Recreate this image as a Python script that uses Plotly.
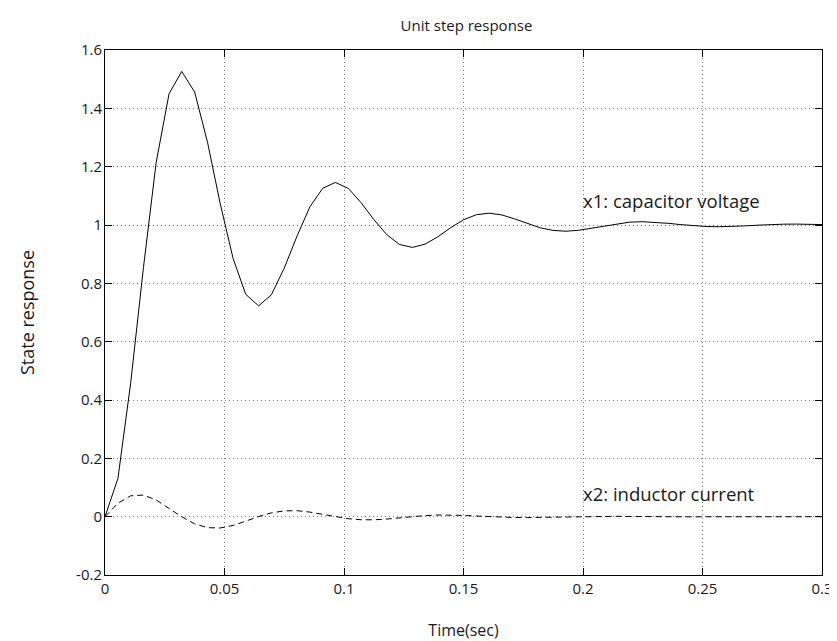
import plotly.graph_objects as go

# Time samples (sec)
time_s = [0.0, 0.0054, 0.0107, 0.0161, 0.0214, 0.0268, 0.0321, 0.0375, 0.0429, 0.0482,
          0.0536, 0.0589, 0.0643, 0.0696, 0.0750, 0.0804, 0.0857, 0.0911, 0.0964, 0.1018,
          0.1071, 0.1125, 0.1179, 0.1232, 0.1286, 0.1339, 0.1393, 0.1446, 0.1500, 0.1554,
          0.1607, 0.1661, 0.1714, 0.1768, 0.1821, 0.1875, 0.1929, 0.1982, 0.2036, 0.2089,
          0.2143, 0.2196, 0.2250, 0.2304, 0.2357, 0.2411, 0.2464, 0.2518, 0.2571, 0.2625,
          0.2679, 0.2732, 0.2786, 0.2839, 0.2893, 0.2946, 0.3000]

# x1: capacitor voltage
x1_capacitor_voltage = [0.0, 0.1307, 0.4554, 0.8548, 1.2138, 1.4497, 1.5266, 1.4559, 1.2838, 1.0734,
                        0.8850, 0.7620, 0.7227, 0.7609, 0.8521, 0.9630, 1.0618, 1.1260, 1.1460, 1.1254,
                        1.0771, 1.0186, 0.9668, 0.9333, 0.9231, 0.9343, 0.9598, 0.9906, 1.0178, 1.0353,
                        1.0405, 1.0345, 1.0209, 1.0047, 0.9904, 0.9813, 0.9787, 0.9819, 0.9891, 0.9976,
                        1.0051, 1.0099, 1.0112, 1.0095, 1.0057, 1.0012, 0.9972, 0.9948, 0.9941, 0.9950,
                        0.9970, 0.9994, 1.0015, 1.0028, 1.0031, 1.0026, 1.0015]

# x2: inductor current
x2_inductor_current = [0.0, 0.0460, 0.0714, 0.0740, 0.0574, 0.0295, -0.0004, -0.0245, -0.0377, -0.0389,
                       -0.0301, -0.0153, 0.0004, 0.0130, 0.0199, 0.0205, 0.0157, 0.0079, -0.0003, -0.0070,
                       -0.0105, -0.0108, -0.0082, -0.0041, 0.0002, 0.0037, 0.0056, 0.0057, 0.0043, 0.0021,
                       -0.0002, -0.0020, -0.0029, -0.0030, -0.0023, -0.0011, 0.0001, 0.0011, 0.0016, 0.0016,
                       0.0012, 0.0006, -0.0001, -0.0006, -0.0008, -0.0008, -0.0006, -0.0003, 0.0000, 0.0003,
                       0.0004, 0.0004, 0.0003, 0.0002, 0.0000, -0.0002, -0.0002]

x_tick_vals = [0, 0.05, 0.1, 0.15, 0.2, 0.25, 0.3]
x_tick_text = ["0", "0.05", "0.1", "0.15", "0.2", "0.25", "0.3"]
y_tick_vals = [-0.2, 0, 0.2, 0.4, 0.6, 0.8, 1.0, 1.2, 1.4, 1.6]
y_tick_text = ["-0.2", "0", "0.2", "0.4", "0.6", "0.8", "1", "1.2", "1.4", "1.6"]

label_x1 = "x1: capacitor voltage"
label_x2 = "x2: inductor current"

FONT = "Open Sans"
TXT = "#1a1a1a"

fig = go.Figure()
fig.add_trace(go.Scatter(x=time_s, y=x1_capacitor_voltage, mode="lines",
                         line=dict(color="black", width=1), showlegend=False))
fig.add_trace(go.Scatter(x=time_s, y=x2_inductor_current, mode="lines",
                         line=dict(color="black", width=1, dash="6px,4px"), showlegend=False))

fig.add_annotation(x=0.2, y=1.084, text=label_x1, showarrow=False, xanchor="left", yanchor="middle",
                   xshift=-2, font=dict(family=FONT, size=18.5, color=TXT))
fig.add_annotation(x=0.2, y=0.080, text=label_x2, showarrow=False, xanchor="left", yanchor="middle",
                   xshift=-2, font=dict(family=FONT, size=18.5, color=TXT))

axis_common = dict(showline=True, linecolor="black", linewidth=1, mirror="allticks",
                   ticks="inside", ticklen=7, tickcolor="black", tickwidth=1,
                   showgrid=True, gridcolor="#777777", gridwidth=1, griddash="1px,3px",
                   zeroline=False, tickfont=dict(family=FONT, size=15, color=TXT))

fig.update_xaxes(range=[0, 0.3], tickvals=x_tick_vals, ticktext=x_tick_text,
                 title=dict(text="Time(sec)", font=dict(family=FONT, size=16, color=TXT), standoff=27),
                 **axis_common)
fig.update_yaxes(range=[-0.2, 1.6], tickvals=y_tick_vals, ticktext=y_tick_text,
                 ticklabelstandoff=-1,
                 title=dict(text="State response", font=dict(family=FONT, size=18, color=TXT), standoff=36),
                 **axis_common)

fig.update_layout(width=837, height=641,
                  margin=dict(l=97, r=17, t=42, b=74),
                  paper_bgcolor="white", plot_bgcolor="white",
                  title=dict(text="Unit step response", x=(97 + 820) / 2 / 837, xanchor="center",
                             y=1 - 18 / 641, yanchor="middle",
                             font=dict(family=FONT, size=15, color=TXT)),
                  font=dict(family=FONT, size=15, color=TXT))

fig.write_html("out.html")
